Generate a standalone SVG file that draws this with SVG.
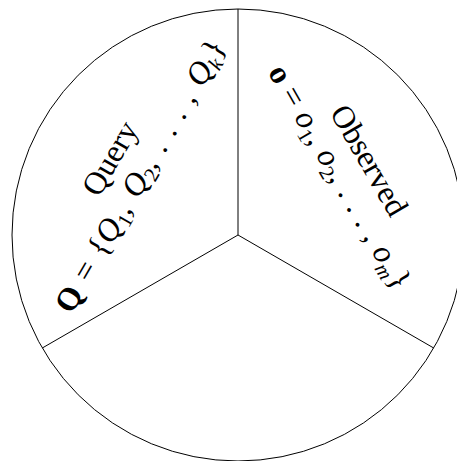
<svg xmlns="http://www.w3.org/2000/svg" width="457" height="461" viewBox="0 0 457 461">
<style>
.ln{fill:none;stroke:#000;stroke-width:1}
.t{font-family:"Liberation Serif","DejaVu Serif",serif;font-size:32px;fill:#000;text-anchor:middle}
.eq{word-spacing:3px}
.eq2{word-spacing:1px}
.m{font-style:italic}
.b{font-weight:bold}
.s{font-size:21px}
</style>
<rect width="457" height="461" fill="#fff"/>
<g id="pie">
<circle class="ln" cx="238" cy="235" r="226"/>
</g>
<g id="connectors">
<line class="ln" x1="238" y1="235" x2="238" y2="9"/>
<line class="ln" x1="238" y1="235" x2="42.3" y2="348"/>
<line class="ln" x1="238" y1="235" x2="433.7" y2="348"/>
</g>
<g id="query">
<text class="t" transform="translate(119,163.5) rotate(-60)">Query</text>
<text class="t eq" transform="translate(149,181) rotate(-60)"><tspan class="b">Q</tspan> = {<tspan class="m">Q</tspan><tspan class="s" dy="6">1</tspan><tspan dy="-6">, </tspan><tspan class="m">Q</tspan><tspan class="s" dy="6">2</tspan><tspan dy="-6">, . . . , </tspan><tspan class="m">Q</tspan><tspan class="s m" dy="6">k</tspan><tspan dy="-6">}</tspan></text>
</g>
<g id="observed">
<text class="t" transform="translate(360,165.5) rotate(60)">Observed</text>
<text class="t eq2" transform="translate(331,182) rotate(60)"><tspan class="b">o</tspan> = <tspan class="m">o</tspan><tspan class="s" dy="6">1</tspan><tspan dy="-6">, </tspan><tspan class="m">o</tspan><tspan class="s" dy="6">2</tspan><tspan dy="-6">, . . . , </tspan><tspan class="m">o</tspan><tspan class="s m" dy="6">m</tspan><tspan dy="-6">}</tspan></text>
</g>
</svg>
